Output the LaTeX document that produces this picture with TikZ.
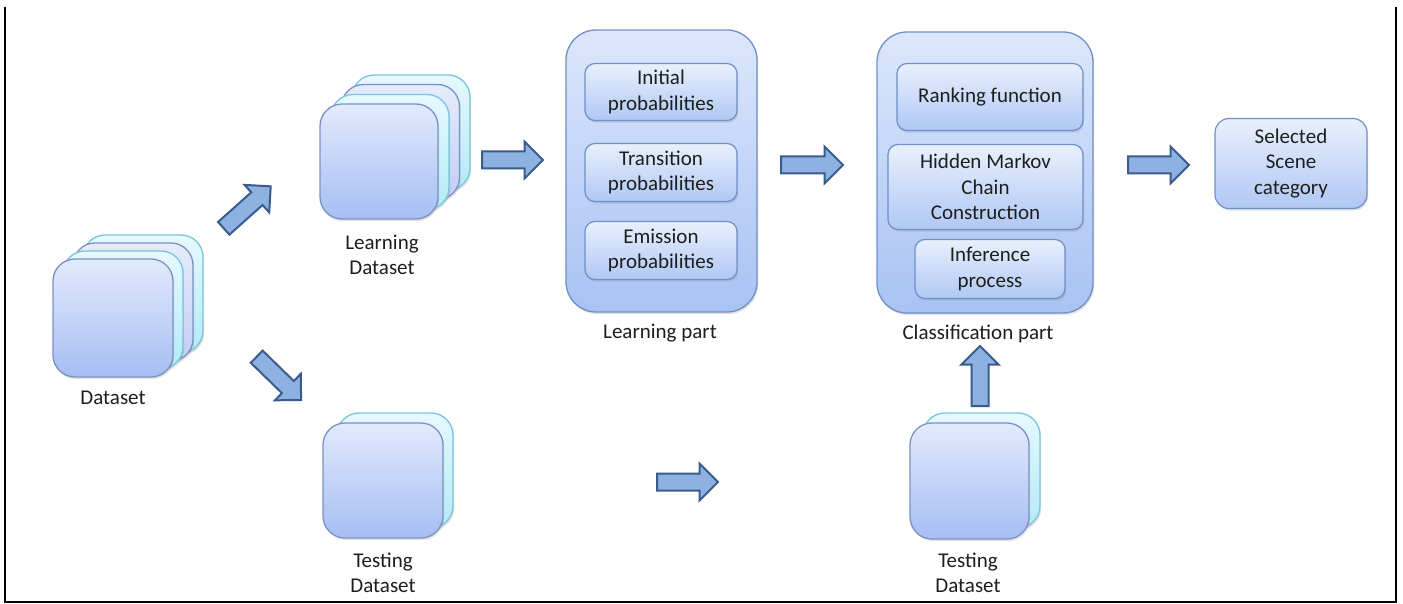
\documentclass[tikz,border=0pt]{standalone}
\usepackage{fontspec}
\setmainfont{Carlito}
\usetikzlibrary{shapes.arrows,shadows}

\definecolor{txt}{HTML}{1E1E1E}
\definecolor{cardTop}{HTML}{E2EAFC}
\definecolor{cardBot}{HTML}{A6BEF3}
\definecolor{cardLine}{HTML}{7C92C6}
\definecolor{cyanTop}{HTML}{E6F9FE}
\definecolor{cyanBot}{HTML}{B3EAF7}
\definecolor{cyanLine}{HTML}{79C6DA}
\definecolor{lavTop}{HTML}{E6EBFC}
\definecolor{lavBot}{HTML}{C2CEF5}
\definecolor{boxTop}{HTML}{DCE7FC}
\definecolor{boxBot}{HTML}{A8C2F3}
\definecolor{boxLine}{HTML}{7090C8}
\definecolor{inTop}{HTML}{E8F0FD}
\definecolor{inBot}{HTML}{B0C8F4}
\definecolor{arrFill}{HTML}{8DB2E1}
\definecolor{arrLine}{HTML}{3A5C8A}

\tikzset{
  x=1pt, y=-1pt,
  every node/.style={font=\fontsize{21pt}{25.5pt}\selectfont, text=txt, align=center},
  softshadow/.style={drop shadow={opacity=0.22, shadow xshift=1.2pt, shadow yshift=-2.2pt}},
  cardfront/.style={draw=cardLine, line width=1.3pt, rounded corners=22pt,
    top color=cardTop, bottom color=cardBot, softshadow, inner sep=0pt},
  cardcyan/.style={draw=cyanLine, line width=1.3pt, rounded corners=22pt,
    top color=cyanTop, bottom color=cyanBot, softshadow, inner sep=0pt},
  cardlav/.style={draw=cardLine, line width=1.3pt, rounded corners=22pt,
    top color=lavTop, bottom color=lavBot, softshadow, inner sep=0pt},
  panel/.style={draw=boxLine, line width=1.3pt, rounded corners=30pt,
    top color=boxTop, bottom color=boxBot, softshadow, inner sep=0pt},
  subbox/.style={draw=boxLine, line width=1.2pt, rounded corners=10pt,
    top color=inTop, bottom color=inBot, softshadow, inner sep=0pt},
  blockarrow/.style={single arrow, draw=arrLine, fill=arrFill, line width=2pt,
    inner sep=0pt, inner ysep=7.5pt, single arrow head extend=10pt,
    minimum width=35pt, single arrow tip angle=90, anchor=tail},
  caption/.style={inner sep=0pt},
}

\begin{document}
\begin{tikzpicture}
\useasboundingbox (0,0) rectangle (1403,604);
\fill[white] (0,0) rectangle (1403,604);

% frame
\draw[line width=1.5pt] (5,7) -- (5,602) -- (1396,602) -- (1396,7);

% ---------- Dataset stack ----------
\node[cardcyan,  minimum width=120pt, minimum height=118pt] (ds4) at (143,294) {};
\node[cardlav,   minimum width=120pt, minimum height=118pt] (ds3) at (133,302) {};
\node[cardcyan,  minimum width=120pt, minimum height=118pt] (ds2) at (123,310) {};
\node[cardfront, minimum width=120pt, minimum height=118pt] (ds1) at (113,318) {};
\node[caption] (dsl) at (113,398) {Dataset};

% ---------- Learning dataset stack ----------
\node[cardcyan,  minimum width=118pt, minimum height=115pt] (ld4) at (411,132.5) {};
\node[cardlav,   minimum width=118pt, minimum height=115pt] (ld3) at (400.5,142) {};
\node[cardcyan,  minimum width=118pt, minimum height=115pt] (ld2) at (390,152) {};
\node[cardfront, minimum width=118pt, minimum height=115pt] (ld1) at (379,161.5) {};
\node[caption] (ldl) at (382,255) {Learning\\Dataset};

% ---------- Testing dataset (left) ----------
\node[cardcyan,  minimum width=116pt, minimum height=115pt] (td2) at (395,470.5) {};
\node[cardfront, minimum width=120pt, minimum height=115pt] (td1) at (383,480.5) {};
\node[caption] (tdl) at (383,573) {Testing\\Dataset};

% ---------- Testing dataset (right) ----------
\node[cardcyan,  minimum width=117pt, minimum height=115pt] (te2) at (981.5,470.5) {};
\node[cardfront, minimum width=119pt, minimum height=116pt] (te1) at (969.5,481) {};
\node[caption] (tel) at (968,573) {Testing\\Dataset};

% ---------- Learning part ----------
\node[panel, minimum width=191pt, minimum height=282pt] (lp) at (661.5,171) {};
\node[subbox, minimum width=152pt, minimum height=57pt] (ip) at (661,92) {Initial\\probabilities};
\node[subbox, minimum width=152pt, minimum height=58pt] (tp) at (661,172.5) {Transition\\probabilities};
\node[subbox, minimum width=152pt, minimum height=58pt] (ep) at (661,250.5) {Emission\\probabilities};
\node[caption] (lpl) at (660,333) {Learning part};

% ---------- Classification part ----------
\node[panel, minimum width=216pt, minimum height=281pt] (cp) at (985,172.5) {};
\node[subbox, minimum width=186pt, minimum height=67pt] (rf) at (990,97) {Ranking function};
\node[subbox, minimum width=195pt, minimum height=85pt] (hmc) at (985.5,187) {Hidden Markov\\Chain\\Construction};
\node[subbox, minimum width=150pt, minimum height=59pt] (inf) at (990,269) {Inference\\process};
\node[caption] (cpl) at (978,334) {Classification part};

% ---------- Result ----------
\node[subbox, rounded corners=14pt, minimum width=152pt, minimum height=90pt] (sel) at (1291,163.5) {Selected\\Scene\\category};

% ---------- Block arrows (placed by their tails) ----------
\node[blockarrow, minimum height=63pt, rotate=41.8]  (aup)    at (223,229) {};
\node[blockarrow, minimum height=62pt, rotate=-44.3] (adown)  at (256,356) {};
\node[blockarrow, minimum height=61pt]               (alearn) at (481,160) {};
\node[blockarrow, minimum height=62pt]               (aclass) at (780,165) {};
\node[blockarrow, minimum height=61pt]               (asel)   at (1127,165) {};
\node[blockarrow, minimum height=61pt]               (atest)  at (656,482) {};
\node[blockarrow, minimum height=60pt, rotate=90]    (aupc)   at (980,407) {};
\end{tikzpicture}
\end{document}
